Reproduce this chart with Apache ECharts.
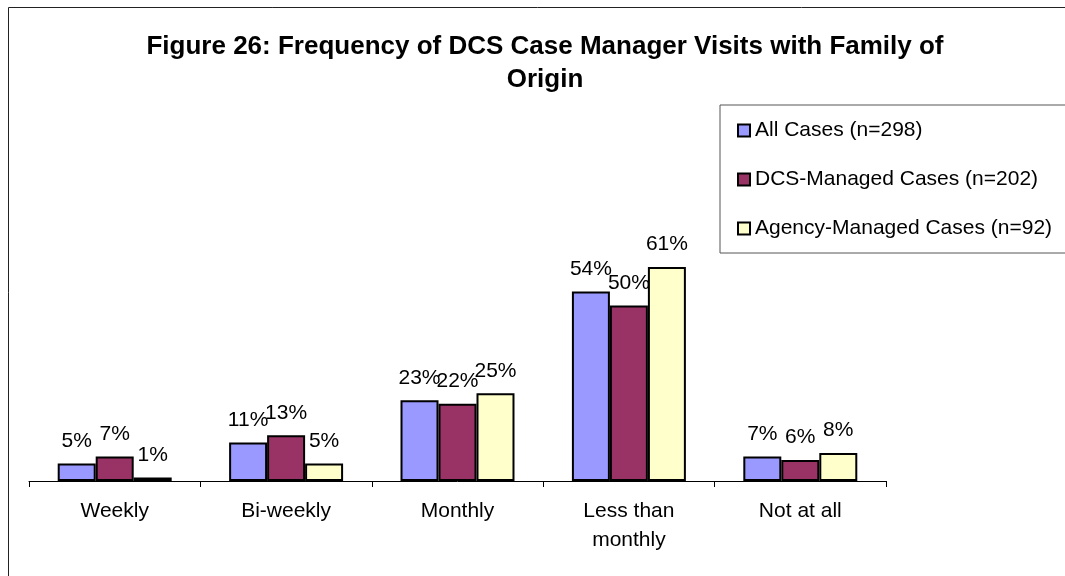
<!DOCTYPE html>
<html>
<head>
    <meta charset="utf-8" />
    <title>Figure 26</title>
    <script src="https://cdn.jsdelivr.net/npm/echarts@6/dist/echarts.min.js"></script>
</head>
<body style="margin:0;background:#fff;">
    <div id="main" style="width: 1065px;height:576px;"></div>
    <script type="text/javascript">
        // categories and series values (percent)
        var categories = ['Weekly', 'Bi-weekly', 'Monthly', 'Less than\nmonthly', 'Not at all'];
        var seriesNames = ['All Cases (n=298)', 'DCS-Managed Cases (n=202)', 'Agency-Managed Cases (n=92)'];
        var allCases = [5, 11, 23, 54, 7];
        var dcsCases = [7, 13, 22, 50, 6];
        var agencyCases = [1, 5, 25, 61, 8];
        var colors = ['#9999FF', '#993366', '#FFFFCC'];

        var font = 'Arial, "Liberation Sans", sans-serif';
        var myChart = echarts.init(document.getElementById('main'));

        function makeSeries(name, data, color) {
            return {
                name: name,
                type: 'bar',
                data: data,
                barGap: '0%',
                barCategoryGap: '33.5%',
                itemStyle: { color: color, borderColor: '#000', borderWidth: 2 },
                label: {
                    show: true,
                    position: 'top',
                    distance: 12,
                    formatter: '{c}%',
                    color: '#000',
                    fontSize: 21,
                    fontFamily: font
                },
                emphasis: { disabled: true }
            };
        }

        var option = {
            animation: false,
            backgroundColor: '#fff',
            title: {
                text: 'Figure 26: Frequency of DCS Case Manager Visits with Family of\nOrigin',
                left: 540,
                textAlign: 'center',
                top: 25,
                textStyle: { fontSize: 26, fontWeight: 'bold', color: '#000', fontFamily: font, lineHeight: 33 }
            },
            legend: {
                orient: 'vertical',
                left: 720,
                top: 105,
                padding: [15, 14, 14, 17],
                itemGap: 28,
                itemWidth: 12,
                itemHeight: 12,
                icon: 'rect',
                borderColor: '#555',
                borderWidth: 1,
                textStyle: { fontSize: 21, color: '#000', fontFamily: font },
                itemStyle: { borderColor: '#000', borderWidth: 2 },
                data: seriesNames
            },
            graphic: [{
                type: 'rect',
                shape: { x: 8.5, y: 7.5, width: 1100, height: 600 },
                style: { fill: null, stroke: '#222', lineWidth: 1 },
                silent: true
            }],
            grid: { left: 29, right: 179, top: 130, bottom: 95 },
            xAxis: {
                type: 'category',
                data: categories,
                axisLine: { lineStyle: { color: '#000', width: 1 } },
                axisTick: { show: true, length: 6, lineStyle: { color: '#000' } },
                axisLabel: { color: '#000', fontSize: 21, fontFamily: font, margin: 16, lineHeight: 29, interval: 0 }
            },
            yAxis: {
                type: 'value',
                min: 0,
                max: 100,
                show: false,
                splitLine: { show: false }
            },
            series: [
                makeSeries(seriesNames[0], allCases, colors[0]),
                makeSeries(seriesNames[1], dcsCases, colors[1]),
                makeSeries(seriesNames[2], agencyCases, colors[2])
            ]
        };
        myChart.setOption(option);
    </script>
</body>
</html>
